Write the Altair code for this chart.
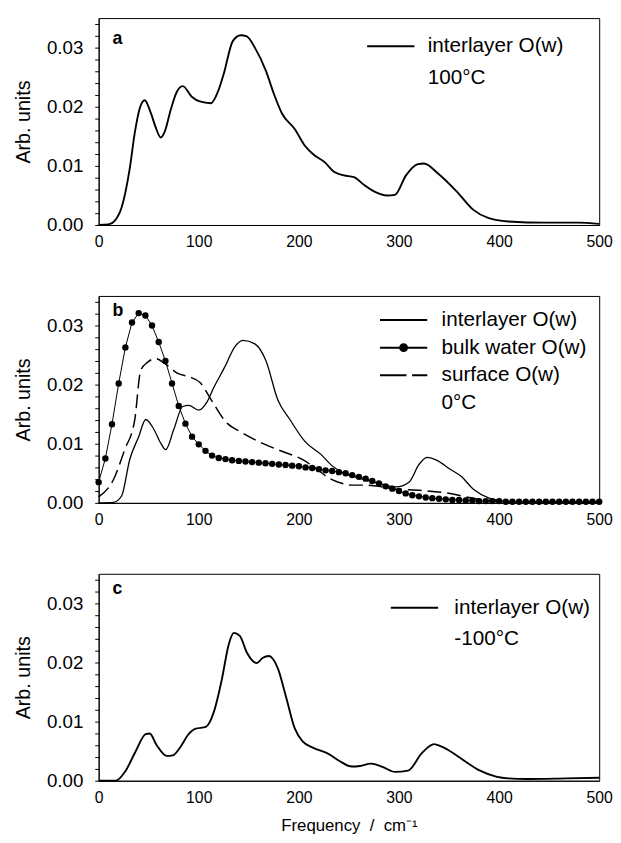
import altair as alt
import pandas as pd

FONT = "Liberation Sans"

# ---------------- data ----------------
# panel a : interlayer O(w), 100 C
a_freq = [0, 10, 16, 23, 31, 36, 41, 46, 52, 57, 62, 66, 72, 78, 84, 93, 101, 112, 119, 125,
          134, 142, 148, 156, 167, 175, 183, 196, 206, 214, 226, 235, 245, 255, 265, 276,
          288, 296, 307, 319, 325, 339, 358, 374, 389, 409, 447, 479, 500]
a_val = [0, 0.0001, 0.0007, 0.003, 0.0095, 0.0155, 0.0197, 0.0211, 0.019, 0.0165, 0.0148,
         0.0158, 0.0195, 0.0225, 0.0235, 0.0217, 0.0209, 0.0206, 0.0225, 0.0256, 0.0311,
         0.0321, 0.0319, 0.030, 0.0261, 0.0222, 0.0189, 0.0162, 0.0134, 0.012, 0.0106,
         0.009, 0.0084, 0.0081, 0.0068, 0.0056, 0.005, 0.0051, 0.0084, 0.0103, 0.0104,
         0.0087, 0.0056, 0.0026, 0.0012, 0.0006, 0.0004, 0.0004, 0.0002]

# panel b : 0 C
b_int_freq = [0, 15, 23, 31, 40, 47, 55, 62, 67, 75, 84, 90, 100, 108, 115, 126, 136, 144,
              156, 167, 179, 191, 206, 222, 233, 245, 260, 280, 297, 310, 320, 328, 338,
              350, 362, 375, 390, 410, 500]
b_int_val = [0, 0.0001, 0.0012, 0.0073, 0.0112, 0.0141, 0.0125, 0.0101, 0.009, 0.0124,
             0.0163, 0.0165, 0.0157, 0.017, 0.0195, 0.023, 0.0264, 0.0275, 0.0269, 0.0241,
             0.0174, 0.0141, 0.0104, 0.0082, 0.0063, 0.005, 0.0042, 0.0033, 0.0027, 0.0035,
             0.0065, 0.0077, 0.0072, 0.0058, 0.0045, 0.0022, 0.0008, 0.0002, 0.0001]

b_bulk_freq = [0, 6.7, 13.3, 20, 26.7, 33.3, 40, 46.7, 53.3, 60, 66.7, 73.3, 80, 86.7, 93.3,
               100, 106.7, 113.3, 120, 126.7, 133.3, 140, 146.7, 153.3, 160, 166.7, 173.3,
               180, 186.7, 193.3, 200, 206.7, 213.3, 220, 226.7, 233.3, 240, 246.7, 253.3,
               260, 266.7, 273.3, 280, 286.7, 293.3, 300, 306.7, 313.3, 320, 326.7, 333.3,
               340, 346.7, 353.3, 360, 366.7, 373.3, 380, 386.7, 393.3, 400, 406.7, 413.3,
               420, 426.7, 433.3, 440, 446.7, 453.3, 460, 466.7, 473.3, 480, 486.7, 493.3, 500]
b_bulk_val = [0.0035, 0.0075, 0.0133, 0.0202, 0.0263, 0.0305, 0.0321, 0.0317, 0.0300,
              0.0272, 0.0240, 0.0202, 0.0164, 0.0134, 0.0112, 0.0099, 0.0088, 0.0080,
              0.0076, 0.0074, 0.0072, 0.0071, 0.0070, 0.0069, 0.0068, 0.0067, 0.0066,
              0.0065, 0.0064, 0.0063, 0.0062, 0.0060, 0.0059, 0.0057, 0.0055, 0.0054,
              0.0052, 0.0050, 0.0047, 0.0044, 0.0041, 0.0037, 0.0033, 0.0028, 0.0024,
              0.0020, 0.0016, 0.0013, 0.0011, 0.0009, 0.0008, 0.0007, 0.0006, 0.0005,
              0.0005, 0.0004, 0.0004, 0.0003, 0.0003, 0.0003, 0.0003, 0.0002, 0.0002,
              0.0002, 0.0002, 0.0002, 0.0002, 0.0002, 0.0002, 0.0002, 0.0002, 0.0002,
              0.0002, 0.0002, 0.0002, 0.0002]

b_sur_freq = [0, 15, 26, 36, 42, 49, 57, 66, 79, 91, 101, 114, 127, 143, 162, 185, 203, 218,
              230, 241, 253, 265, 280, 292, 323, 354, 370, 389, 420, 500]
b_sur_val = [0.001, 0.004, 0.009, 0.014, 0.0224, 0.0238, 0.0244, 0.0236, 0.0219, 0.0213,
             0.0204, 0.0170, 0.0137, 0.0119, 0.0102, 0.0086, 0.0074, 0.0057, 0.0042, 0.0034,
             0.0030, 0.0030, 0.0028, 0.0024, 0.0021, 0.0015, 0.0009, 0.0004, 0.0002, 0.0001]

# panel c : interlayer O(w), -100 C
c_freq = [0, 17, 27, 37, 47, 51, 58, 68, 74, 82, 89, 97, 107, 115, 123, 130, 135, 141, 148,
          158, 164, 170, 179, 187, 196, 204, 214, 230, 241, 253, 261, 272, 284, 296, 309,
          323, 335, 342, 354, 366, 381, 397, 409, 428, 467, 500]
c_val = [0, 0, 0.0017, 0.005, 0.0079, 0.008, 0.006, 0.0042, 0.0043, 0.0058, 0.0077, 0.0088,
         0.0091, 0.0116, 0.0171, 0.0231, 0.025, 0.0245, 0.0217, 0.0199, 0.0208, 0.0211,
         0.019, 0.0143, 0.0088, 0.0066, 0.0056, 0.0045, 0.0033, 0.0024, 0.0025, 0.0029,
         0.0023, 0.0015, 0.0017, 0.0047, 0.0062, 0.0058, 0.0047, 0.0033, 0.0017, 0.0007,
         0.0004, 0.0003, 0.0004, 0.0005]

x_tick_values = [0, 100, 200, 300, 400, 500]
y_tick_values = [0, 0.002, 0.004, 0.006, 0.008, 0.01, 0.012, 0.014, 0.016, 0.018, 0.02,
                 0.022, 0.024, 0.026, 0.028, 0.03, 0.032, 0.034]

S_INT = "interlayer O(w)"
S_BULK = "bulk water O(w)"
S_SUR = "surface O(w)"

# ---------------- helpers ----------------
W, H = 508, 210
LEG_FS = 21


def frame(freqs, vals, name):
    return pd.DataFrame({"freq": freqs, "val": vals, "series": name})


def encodings(last):
    x = alt.X("freq:Q", scale=alt.Scale(domain=[0, 500], nice=False),
              axis=alt.Axis(values=x_tick_values, format="d", labelFontSize=16, labelFont=FONT,
                            labelColor="black", tickSize=0, labelPadding=9, labelFlush=False,
                            grid=False, domainColor="black",
                            title="Frequency\u00a0\u00a0/\u00a0\u00a0cm\u207b\u00b9" if last else None,
                            titleFont=FONT, titleFontSize=17, titleFontWeight="normal",
                            titleColor="black", titlePadding=13))
    y = alt.Y("val:Q", scale=alt.Scale(domain=[0, 0.035], nice=False),
              axis=alt.Axis(values=y_tick_values,
                            labelExpr="abs(datum.value*100 - round(datum.value*100)) < 0.01 ? format(datum.value, '.2f') : ''",
                            labelFontSize=19, labelFont=FONT, labelColor="black",
                            tickSize=4, tickColor="black", labelPadding=12, labelOverlap=False,
                            grid=False, domainColor="black", title="Arb. units",
                            titleFont=FONT, titleFontSize=20, titleFontWeight="normal",
                            titleColor="black", titlePadding=13))
    return x, y


def legend_layer(df, names, paths, lx, ly, rowpad, loff, x, y):
    return alt.Chart(df).transform_filter("datum.freq < -1").mark_point(
        filled=False, color="black", strokeWidth=2, opacity=1
    ).encode(
        x=x, y=y,
        shape=alt.Shape("series:N", scale=alt.Scale(domain=names, range=paths),
                        legend=alt.Legend(title=None, orient="none", legendX=lx, legendY=ly,
                                          symbolSize=100, symbolStrokeWidth=2,
                                          symbolStrokeColor="black",
                                          symbolOpacity=1, labelFont=FONT, labelFontSize=LEG_FS,
                                          labelColor="black", labelOffset=loff, labelLimit=0,
                                          rowPadding=rowpad, padding=0)),
    )


def letter(t, dy):
    return alt.Chart(pd.DataFrame({"t": [t]})).mark_text(
        font=FONT, fontSize=18, fontWeight="bold", align="left", baseline="middle", color="black"
    ).encode(x=alt.value(14), y=alt.value(dy), text="t:N")


P_LINE = "M-4.8,0H4.8"
P_NONE = "M0,0"
P_DOT = ("M-4.8,0H4.8"
         "M-0.7,0A0.7,0.7,0,1,0,0.7,0A0.7,0.7,0,1,0,-0.7,0"
         "M-0.45,0A0.45,0.45,0,1,0,0.45,0A0.45,0.45,0,1,0,-0.45,0"
         "M-0.2,0A0.2,0.2,0,1,0,0.2,0A0.2,0.2,0,1,0,-0.2,0")
P_DASH = "M-4.8,0H0.58M1.73,0H4.8"

# ---------------- panel a ----------------
df_a = frame(a_freq, a_val, S_INT)
xa, ya = encodings(False)
pa = alt.layer(
    alt.Chart(df_a).mark_line(color="black", strokeWidth=1.9, interpolate="monotone").encode(x=xa, y=ya),
    legend_layer(df_a, [S_INT, "100\u00b0C"], [P_LINE, P_NONE], 286, 18, 10, 27, xa, ya),
    letter("a", 21),
).properties(width=W, height=H)

# ---------------- panel b ----------------
df_bi = frame(b_int_freq, b_int_val, S_INT)
df_bb = frame(b_bulk_freq, b_bulk_val, S_BULK)
df_bs = frame(b_sur_freq, b_sur_val, S_SUR)
xb, yb = encodings(False)
pb = alt.layer(
    alt.Chart(df_bi).mark_line(color="black", strokeWidth=1.3, interpolate="monotone").encode(x=xb, y=yb),
    alt.Chart(df_bs).mark_line(color="black", strokeWidth=1.5, strokeDash=[14, 6], interpolate="monotone").encode(x=xb, y=yb),
    alt.Chart(df_bb).mark_line(color="black", strokeWidth=1).encode(x=xb, y=yb),
    alt.Chart(df_bb).mark_circle(color="black", size=42, opacity=1).encode(x=xb, y=yb),
    legend_layer(df_bi, [S_INT, S_BULK, S_SUR, "0\u00b0C"], [P_LINE, P_DOT, P_DASH, P_NONE],
                 299, 14, 6, 28, xb, yb),
    letter("b", 15),
).properties(width=W, height=H)

# ---------------- panel c ----------------
df_c = frame(c_freq, c_val, S_INT)
xc, yc = encodings(True)
pc = alt.layer(
    alt.Chart(df_c).mark_line(color="black", strokeWidth=1.9, interpolate="monotone").encode(x=xc, y=yc),
    legend_layer(df_c, [S_INT, "-100\u00b0C"], [P_LINE, P_NONE], 310, 24, 10, 30, xc, yc),
    letter("c", 15),
).properties(width=W, height=H)

chart = alt.vconcat(pa, pb, pc, spacing=72, bounds="flush").resolve_scale(
    shape="independent"
).resolve_legend(shape="independent").properties(
    padding={"left": 5, "top": 0, "right": 0, "bottom": 5}
).configure_view(stroke="black", strokeWidth=1).configure_axis(domainWidth=1)

chart.save("out.html", embed_options={"renderer": "svg", "actions": False})
